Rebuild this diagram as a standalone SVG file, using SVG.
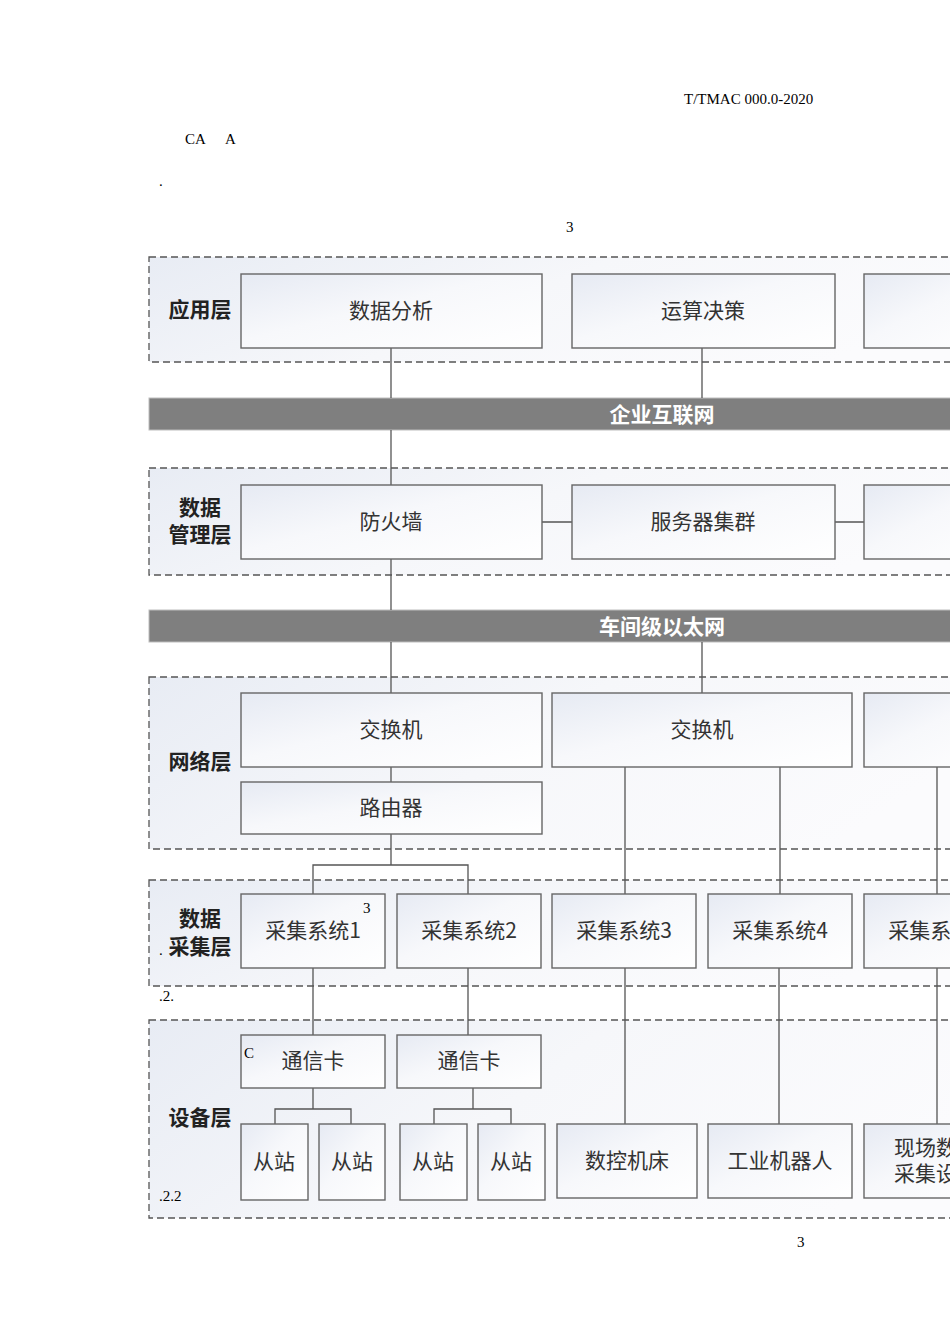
<svg xmlns="http://www.w3.org/2000/svg" width="950" height="1344" viewBox="0 0 950 1344">
<defs>
<linearGradient id="gbox" x1="0" y1="0" x2="1" y2="1">
<stop offset="0" stop-color="#e6eaf3"/>
<stop offset="0.45" stop-color="#f7f8fb"/>
<stop offset="1" stop-color="#ffffff"/>
</linearGradient>
<linearGradient id="glayer" x1="0" y1="0" x2="1" y2="0.3">
<stop offset="0" stop-color="#e8ecf4"/>
<stop offset="0.5" stop-color="#f6f7fa"/>
<stop offset="1" stop-color="#fbfbfd"/>
</linearGradient>
<style>
.layer{fill:url(#glayer);stroke:#555;stroke-width:1.3;stroke-dasharray:7,4}
.box{fill:url(#gbox);stroke:#666;stroke-width:1.4}
.bar{fill:#7f7f7f;stroke:#bdbdbd;stroke-width:1}
.t{font-family:"Noto Sans CJK SC","Liberation Sans",sans-serif;font-size:21px;fill:#333;text-anchor:middle;dominant-baseline:central}
.lbl{font-family:"Noto Sans CJK SC","Liberation Sans",sans-serif;font-size:21px;font-weight:bold;fill:#222;text-anchor:middle;dominant-baseline:central}
.bt{font-family:"Noto Sans CJK SC","Liberation Sans",sans-serif;font-size:21px;font-weight:bold;fill:#fff;text-anchor:middle;dominant-baseline:central}
.s{font-family:"Liberation Serif",serif;font-size:15px;fill:#000}
.c{fill:none;stroke:#555;stroke-width:1.3}
</style>
</defs>
<rect width="950" height="1344" fill="#fff"/>
<g id="stray">
<text class="s" x="684" y="104" font-size="13.5">T/TMAC 000.0-2020</text>
<text class="s" x="185" y="144">CA</text>
<text class="s" x="225" y="144">A</text>
<text class="s" x="159" y="186">.</text>
<text class="s" x="566" y="232">3</text>
<text class="s" x="797" y="1247">3</text>
</g>
<g id="layers">
<g id="layer-app"><rect class="layer" x="149" y="257" width="860" height="105"/><text class="lbl" x="200" y="308">应用层</text></g>
<g id="layer-dm"><rect class="layer" x="149" y="468" width="860" height="107"/><text class="lbl" x="200" y="506">数据</text><text class="lbl" x="200" y="533">管理层</text></g>
<g id="layer-net"><rect class="layer" x="149" y="677" width="860" height="172"/><text class="lbl" x="200" y="760">网络层</text></g>
<g id="layer-acq"><rect class="layer" x="149" y="880" width="860" height="106"/><text class="lbl" x="200" y="917">数据</text><text class="lbl" x="200" y="945">采集层</text><text class="s" x="159" y="955">.</text></g>
<g id="layer-dev"><rect class="layer" x="149" y="1020" width="860" height="198"/><text class="lbl" x="200" y="1116">设备层</text></g>
</g>
<g id="bars">
<g id="bar-internet"><rect class="bar" x="149" y="398" width="820" height="32"/><text class="bt" x="662" y="413">企业互联网</text></g>
<g id="bar-ethernet"><rect class="bar" x="149" y="610" width="820" height="32"/><text class="bt" x="662" y="625">车间级以太网</text></g>
</g>
<g id="connectors">
<path class="c" d="M391 348V398M702 348V398"/>
<path class="c" d="M391 430V485"/>
<path class="c" d="M542 522H572M835 522H864"/>
<path class="c" d="M391 559V610"/>
<path class="c" d="M391 642V693M702 642V693"/>
<path class="c" d="M391 767V782"/>
<path class="c" d="M391 834V865M313 894V865H468V894"/>
<path class="c" d="M625 767V894M780 767V894M937 767V894"/>
<path class="c" d="M313 968V1035M468 968V1035"/>
<path class="c" d="M625 968V1124M779 968V1124M937 968V1124"/>
<path class="c" d="M313 1088V1109M275 1124V1109H351V1124"/>
<path class="c" d="M473 1088V1109M434 1124V1109H511V1124"/>
</g>
<g id="n-analysis"><rect class="box" x="241" y="274" width="301" height="74"/><text class="t" x="391" y="309">数据分析</text></g>
<g id="n-decision"><rect class="box" x="572" y="274" width="263" height="74"/><text class="t" x="703" y="309">运算决策</text></g>
<g id="n-app3"><rect class="box" x="864" y="274" width="140" height="74"/></g>
<g id="n-firewall"><rect class="box" x="241" y="485" width="301" height="74"/><text class="t" x="391" y="520">防火墙</text></g>
<g id="n-servers"><rect class="box" x="572" y="485" width="263" height="74"/><text class="t" x="703" y="520">服务器集群</text></g>
<g id="n-dm3"><rect class="box" x="864" y="485" width="140" height="74"/></g>
<g id="n-switch1"><rect class="box" x="241" y="693" width="301" height="74"/><text class="t" x="391" y="728">交换机</text></g>
<g id="n-switch2"><rect class="box" x="552" y="693" width="300" height="74"/><text class="t" x="702" y="728">交换机</text></g>
<g id="n-switch3"><rect class="box" x="864" y="693" width="140" height="74"/></g>
<g id="n-router"><rect class="box" x="241" y="782" width="301" height="52"/><text class="t" x="391" y="806">路由器</text></g>
<g id="n-acq1"><rect class="box" x="241" y="894" width="144" height="74"/><text class="t" x="313" y="929">采集系统1</text><text class="s" x="363" y="913">3</text></g>
<g id="n-acq2"><rect class="box" x="397" y="894" width="144" height="74"/><text class="t" x="469" y="929">采集系统2</text></g>
<g id="n-acq3"><rect class="box" x="552" y="894" width="144" height="74"/><text class="t" x="624" y="929">采集系统3</text></g>
<g id="n-acq4"><rect class="box" x="708" y="894" width="144" height="74"/><text class="t" x="780" y="929">采集系统4</text></g>
<g id="n-acq5"><rect class="box" x="864" y="894" width="144" height="74"/><text class="t" x="936" y="929">采集系统5</text></g>
<text class="s" x="159" y="1001">.2.</text>
<g id="n-card1"><rect class="box" x="241" y="1035" width="144" height="53"/><text class="t" x="313" y="1059">通信卡</text><text class="s" x="244" y="1058">C</text></g>
<g id="n-card2"><rect class="box" x="397" y="1035" width="144" height="53"/><text class="t" x="469" y="1059">通信卡</text></g>
<g id="n-slave1"><rect class="box" x="241" y="1124" width="67" height="76"/><text class="t" x="274" y="1160">从站</text></g>
<g id="n-slave2"><rect class="box" x="319" y="1124" width="66" height="76"/><text class="t" x="352" y="1160">从站</text></g>
<g id="n-slave3"><rect class="box" x="400" y="1124" width="67" height="76"/><text class="t" x="433" y="1160">从站</text></g>
<g id="n-slave4"><rect class="box" x="478" y="1124" width="67" height="76"/><text class="t" x="511" y="1160">从站</text></g>
<g id="n-cnc"><rect class="box" x="557" y="1124" width="140" height="74"/><text class="t" x="627" y="1159">数控机床</text></g>
<g id="n-robot"><rect class="box" x="708" y="1124" width="144" height="74"/><text class="t" x="780" y="1159">工业机器人</text></g>
<g id="n-field"><rect class="box" x="864" y="1124" width="144" height="74"/><text class="t" x="936" y="1146">现场数据</text><text class="t" x="936" y="1172">采集设备</text></g>
<text class="s" x="159" y="1201">.2.2</text>
</svg>
